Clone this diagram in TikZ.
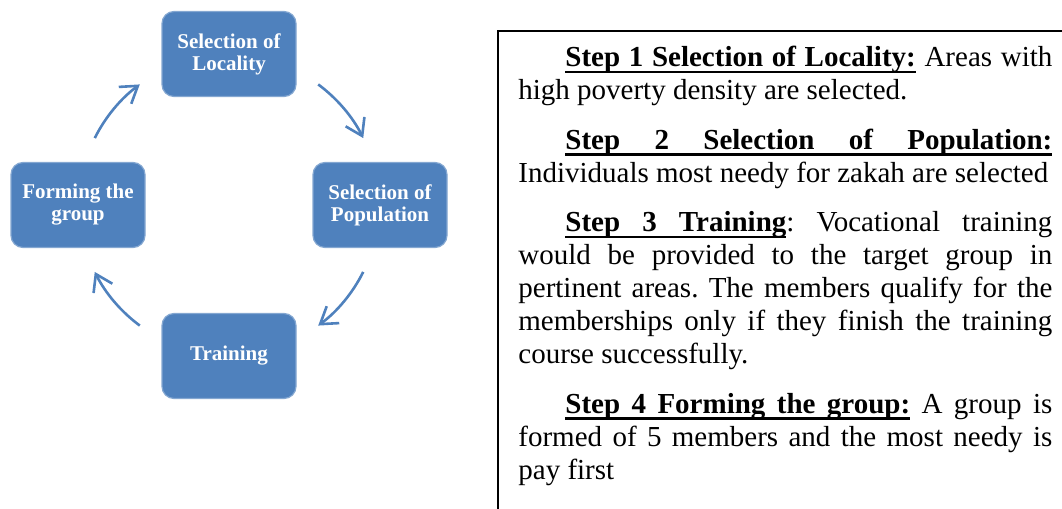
\documentclass[tikz,border=0pt]{standalone}
\usepackage{fontspec}
\setmainfont{Liberation Serif}
\usetikzlibrary{arrows.meta,calc,positioning}
\definecolor{cycblue}{HTML}{4F81BD}
% underlined words, with stretchable underlined spaces between them
\newcommand\ulw[1]{\leavevmode\setbox0=\hbox{#1}\rlap{\vrule height -1.9pt depth 3.2pt width \wd0}\box0}
\newcommand\ulsp{\leaders\hrule height -1.9pt depth 3.2pt\hskip\fontdimen2\font plus\fontdimen3\font minus\fontdimen4\font}
\def\ulrun#1{\ulrunA#1 \relax\relax}
\def\ulrunA#1 #2\relax{\ulw{#1}\ifx\relax#2\relax\else\ulsp\ulrunA#2\relax\fi}
\newcommand\stephead[1]{{\bfseries\ulrun{#1}}}
\tikzset{
	stepbox/.style={draw=cycblue!70!white, line width=.6pt, fill=cycblue,
		rounded corners=6pt, minimum width=67pt, minimum height=42.5pt,
		inner sep=0pt, align=center, text=white,
		font=\fontsize{10.5}{11}\selectfont\bfseries},
	cyc/.style={cycblue, line width=1.3pt,
		-{Straight Barb[length=8pt,width=10.5pt]},
		bend left=13.5, looseness=.86},
	frame/.style={line width=.8pt},
	steptext/.style={anchor=base west, inner sep=0pt, text width=267pt,
		align=justify, font=\fontsize{14.5}{16.5}\selectfont}
}
\begin{document}
\begin{tikzpicture}[x=.5pt, y=.5pt]
	\useasboundingbox (0,0) rectangle (1062,-509);
	% the cycle
	\coordinate (hub) at (229,-205);
	\node[stepbox] (loc) at ($(hub)+(0,151)$) {Selection of\\Locality};
	\node[stepbox] (pop) at ($(hub)+(151,0)$) {Selection of\\Population};
	\node[stepbox] (trn) at ($(hub)+(0,-151)$) {Training};
	\node[stepbox] (grp) at ($(hub)+(-151,0)$) {Forming the\\group};
	\foreach \a/\b/\s in {loc/pop/53.5, pop/trn/-26.5, trn/grp/233.5, grp/loc/153.5} {
		\coordinate (\a-\b-s) at ($(hub)+(\s:150)$);
		\coordinate (\a-\b-e) at ($(hub)+(\s-27:150)$);
		\draw[cyc] (\a-\b-s) to (\a-\b-e);
	}
	% the step descriptions
	\draw[frame] (498,-509) |- (1062,-31);
	\node[steptext] (steps) at (518,-66.7) {%
		\frenchspacing \hyphenpenalty=10000 \tolerance=9999
		\parindent=23.5pt \parskip=8.25pt
		\indent\stephead{Step 1 Selection of Locality:} Areas with\linebreak
		high poverty density are selected.\par
		\stephead{Step 2 Selection of Population:}\linebreak
		Individuals most needy for zakah are selected\par
		\stephead{Step 3 Training}: Vocational training\linebreak
		would be provided to the target group in\linebreak
		pertinent areas. The members qualify for the\linebreak
		memberships only if they finish the training\linebreak
		course successfully.\par
		\stephead{Step 4 Forming the group:} A group is\linebreak
		formed of 5 members and the most needy is\linebreak
		pay first\par};
\end{tikzpicture}
\end{document}
